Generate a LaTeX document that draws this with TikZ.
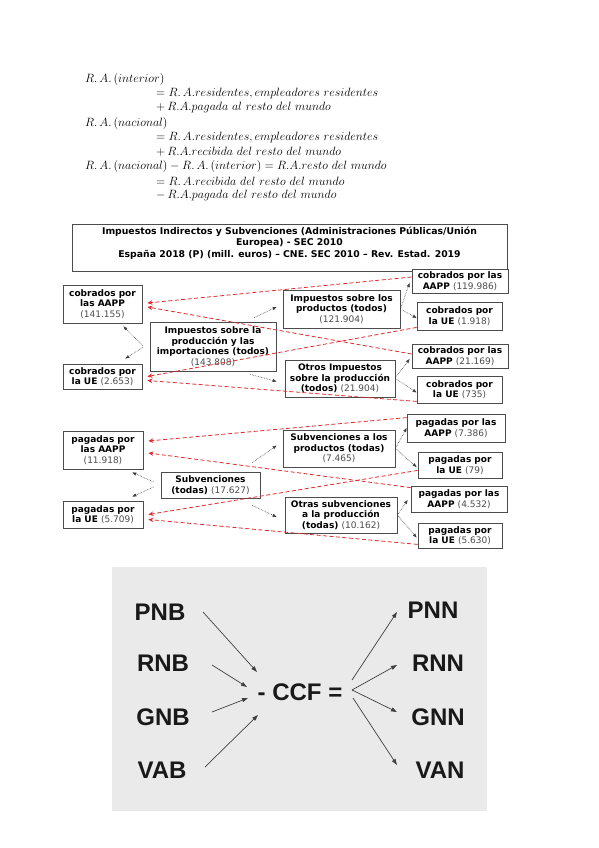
\documentclass[tikz,border=0pt]{standalone}
\usepackage[no-math]{fontspec}
\newfontfamily\dv{DejaVu Sans}
\newfontfamily\lib{Liberation Sans}
\usetikzlibrary{calc,arrows.meta}
\definecolor{redline}{HTML}{E8282B}
\definecolor{panelgray}{HTML}{EAEAEA}
\newcommand\nm[1]{{\mdseries\color{black!70}#1}}
\begin{document}
\begin{tikzpicture}[x=1pt,y=-1pt,
  box/.style={draw=black!70, line width=0.8pt, fill=white, align=center, inner sep=0pt,
    font=\dv\fontsize{9}{10.5}\selectfont\bfseries},
  eq/.style={anchor=west, inner sep=0pt, font=\fontsize{11.7}{14}\selectfont},
  blk/.style={draw=black!75, line width=0.6pt, densely dotted, -{Triangle[length=4pt,width=3pt]}},
  redarr/.style={draw=redline, line width=0.8pt, dash pattern=on 4pt off 2.5pt, -{Stealth[length=5pt,width=4.5pt]}},
  lbl/.style={font=\lib\bfseries\fontsize{24}{28}\selectfont, text=black!90, inner sep=0pt},
  parr/.style={draw=black!75, line width=0.7pt, -{Triangle[length=6pt,width=4pt]}}]
\fill[white] (0,0) rectangle (599,848);
\useasboundingbox (0,0) rectangle (599,848);

% equations
\node[eq] (e1) at (85,80) {$R.\,A.\,(interior)$};
\node[eq] (e2) at (156,94) {$= R.\,A.residentes, empleadores\ residentes$};
\node[eq] (e3) at (156,108) {$+\,R.A.pagada\ al\ resto\ del\ mundo$};
\node[eq] (e4) at (85,123) {$R.\,A.\,(nacional)$};
\node[eq] (e5) at (156,137) {$= R.\,A.residentes, empleadores\ residentes$};
\node[eq] (e6) at (156,152) {$+\,R.A.recibida\ del\ resto\ del\ mundo$};
\node[eq] (e7) at (85,166) {$R.\,A.\,(nacional) - R.\,A.\,(interior) = R.A.resto\ del\ mundo$};
\node[eq] (e8) at (156,181) {$= R.\,A.recibida\ del\ resto\ del\ mundo$};
\node[eq] (e9) at (156,195) {$-\,R.A.pagada\ del\ resto\ del\ mundo$};

% title
\node[box, minimum width=435pt, minimum height=47pt] (titlebox) at (289.5,248) {};
\node[align=center, inner sep=0pt, font=\dv\fontsize{9.3}{11.5}\selectfont\bfseries] (title) at (289.5,243)
  {Impuestos Indirectos y Subvenciones (Administraciones Públicas/Unión\\Europea) - SEC 2010\\España 2018 (P) (mill. euros) – CNE. SEC 2010 – Rev. Estad. 2019};

% upper section
\node[box, minimum width=79pt, minimum height=38pt] (A1) at (102.5,304) {cobrados por\\las AAPP\\\nm{(141.155)}};
\node[box, minimum width=79pt, minimum height=25pt] (A2) at (102.5,376.5) {cobrados por\\la UE \nm{(2.653)}};
\node[box, minimum width=126pt, minimum height=49pt] (C1) at (213,346.5) {Impuestos sobre la\\producción y las\\importaciones (todos)\\\nm{(143.808)}};
\node[box, minimum width=117pt, minimum height=38pt] (P1) at (341.5,309) {Impuestos sobre los\\productos (todos)\\\nm{(121.904)}};
\node[box, minimum width=110pt, minimum height=37pt] (P2) at (340,378.5) {Otros Impuestos\\sobre la producción\\(todos) \nm{(21.904)}};
\node[box, minimum width=96pt, minimum height=24pt] (R1) at (460,281) {cobrados por las\\AAPP \nm{(119.986)}};
\node[box, minimum width=85pt, minimum height=28pt] (R2) at (459.5,316) {cobrados por\\la UE \nm{(1.918)}};
\node[box, minimum width=96pt, minimum height=24pt] (R3) at (460,356) {cobrados por las\\AAPP \nm{(21.169)}};
\node[box, minimum width=85pt, minimum height=27pt] (R4) at (459.5,389.5) {cobrados por\\la UE \nm{(735)}};

% lower section
\node[box, minimum width=80pt, minimum height=38pt] (B1) at (103,450) {pagadas por\\las AAPP\\\nm{(11.918)}};
\node[box, minimum width=80pt, minimum height=27pt] (B2) at (103,514.5) {pagadas por\\la UE \nm{(5.709)}};
\node[box, minimum width=99pt, minimum height=26pt] (S) at (210.5,485) {Subvenciones\\(todas) \nm{(17.627)}};
\node[box, minimum width=112pt, minimum height=37pt] (Q1) at (339,448.5) {Subvenciones a los\\productos (todas)\\\nm{(7.465)}};
\node[box, minimum width=112pt, minimum height=36pt] (Q2) at (341,515) {Otras subvenciones\\a la producción\\(todas) \nm{(10.162)}};
\node[box, minimum width=98pt, minimum height=28pt] (T1) at (456,428) {pagadas por las\\AAPP \nm{(7.386)}};
\node[box, minimum width=84pt, minimum height=26pt] (T2) at (460,465) {pagadas por\\la UE \nm{(79)}};
\node[box, minimum width=96pt, minimum height=26pt] (T3) at (459,499) {pagadas por las\\AAPP \nm{(4.532)}};
\node[box, minimum width=84pt, minimum height=25pt] (T4) at (460,535.5) {pagadas por\\la UE \nm{(5.630)}};

% black dotted arrows, upper
\draw[blk] ($(C1.west)+(-7,-1)$) -- ($(A1.south east)+(-19,3)$);
\draw[blk] ($(C1.west)+(-7,1)$) -- ($(A2.north east)+(-17,-5)$);
\draw[blk] ($(C1.north east)+(-22,-4)$) -- ($(P1.west)+(-6,-2)$);
\draw[blk] ($(C1.south east)+(-26,3)$) -- ($(P2.west)+(-8,3)$);
\draw[blk] (P1.east) -- ($(R1.west)+(-2,2)$);
\draw[blk] (P1.east) -- ($(R2.west)+(0,2)$);
\draw[blk] ($(P2.east)+(0,-1)$) -- ($(R3.west)+(-2,3)$);
\draw[blk] (P2.east) -- ($(R4.west)+(0,3)$);

% black dotted arrows, lower
\draw[blk] ($(S.west)+(-7,-3)$) -- ($(B1.south east)+(-11,3)$);
\draw[blk] ($(S.west)+(-7,2)$) -- ($(B2.north east)+(-11,-4)$);
\draw[blk] ($(S.north east)+(-8,-9)$) -- ($(Q1.west)+(-6,-3)$);
\draw[blk] ($(S.south east)+(-8,7)$) -- ($(Q2.west)+(-8,2)$);
\draw[blk] (Q1.east) -- (T1.west);
\draw[blk] (Q1.east) -- ($(T2.west)+(-1,2)$);
\draw[blk] (Q2.east) -- ($(T3.west)+(-3,1)$);
\draw[blk] (Q2.east) -- ($(T4.west)+(-1,2)$);

% red dashed arrows
\draw[redarr] ($(R1.west)+(0,-4)$) -- ($(A1.east)+(5,-1)$);
\draw[redarr] ($(R3.west)+(0,-2)$) -- ($(A1.east)+(5,3)$);
\draw[redarr] ($(R2.south west)+(0,-3)$) -- ($(A2.east)+(5,0)$);
\draw[redarr] ($(R4.south west)+(0,-2)$) -- ($(A2.east)+(5,4)$);
\draw[redarr] ($(T1.north west)+(0,4)$) -- ($(B1.east)+(5,-9)$);
\draw[redarr] ($(T3.north west)+(0,2)$) -- ($(B1.east)+(5,3)$);
\draw[redarr] ($(T2.south west)+(0,-8)$) -- ($(B2.east)+(5,0)$);
\draw[redarr] ($(T4.south west)+(0,-4)$) -- ($(B2.east)+(5,5)$);

% gray panel
\fill[panelgray] (112,567) rectangle (487,811);
\node[lbl] (PNB) at (160,612) {PNB};
\node[lbl] (RNB) at (163,663) {RNB};
\node[lbl] (GNB) at (163,717) {GNB};
\node[lbl] (VAB) at (162,770) {VAB};
\node[lbl] (CCF) at (300,692) {- CCF =};
\node[lbl] (PNN) at (433,610) {PNN};
\node[lbl] (RNN) at (438,663) {RNN};
\node[lbl] (GNN) at (438,717) {GNN};
\node[lbl] (VAN) at (440,770) {VAN};

\draw[parr] ($(PNB)+(43,0)$) -- ($(CCF)+(-43,-20)$);
\draw[parr] ($(RNB)+(49,2)$) -- ($(CCF)+(-53,-5)$);
\draw[parr] ($(GNB)+(49,-5)$) -- ($(CCF)+(-52,6)$);
\draw[parr] ($(VAB)+(43,-3)$) -- ($(CCF)+(-42,23)$);
\draw[parr] ($(CCF)+(52,-12)$) -- ($(PNN)+(-36,2)$);
\draw[parr] ($(CCF)+(52,-2)$) -- ($(RNN)+(-41,2)$);
\draw[parr] ($(CCF)+(52,-2)$) -- ($(GNN)+(-41,-5)$);
\draw[parr] ($(CCF)+(53,6)$) -- ($(VAN)+(-43,-5)$);
\end{tikzpicture}
\end{document}
